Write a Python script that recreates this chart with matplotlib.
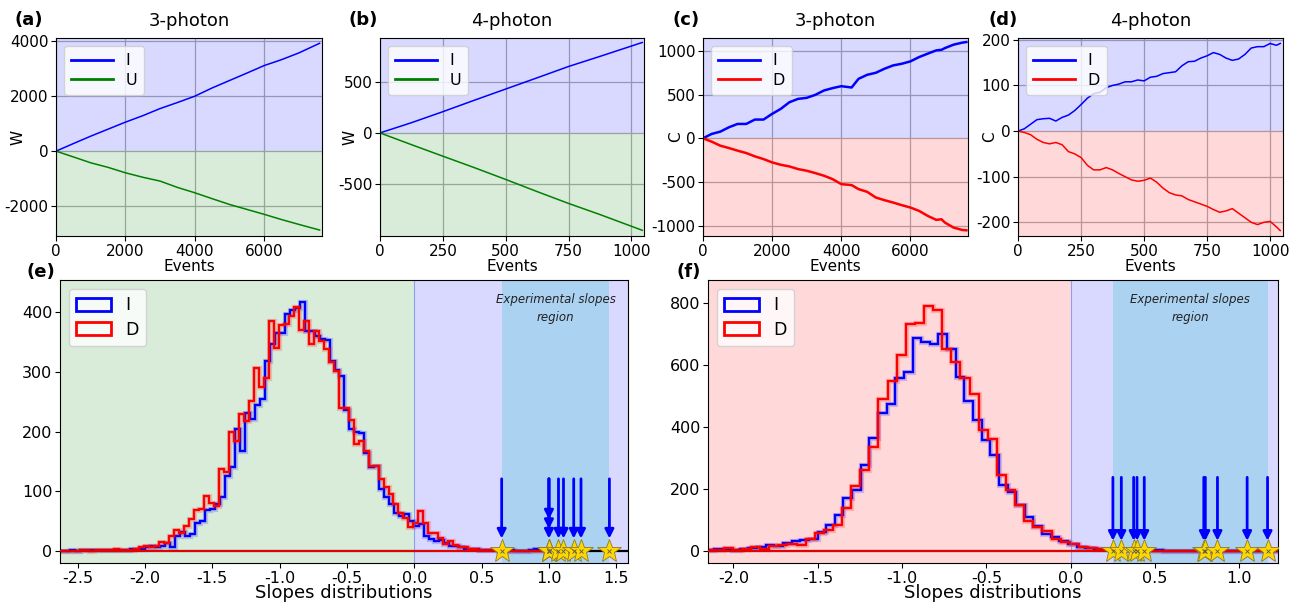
import numpy as np
import matplotlib
matplotlib.use("Agg")
import matplotlib.pyplot as plt
import matplotlib.patheffects as pe
from matplotlib.patches import Patch

plt.rcParams["axes.unicode_minus"] = False
plt.rcParams["font.family"] = "DejaVu Sans"

# ---- (a) 3-photon W walks
a_events = [0, 500, 1000, 1500, 2000, 2500, 3000, 3500, 4000, 4500, 5000, 5500, 6000, 6500, 7000, 7600]
a_I = [0, 275, 545, 800, 1055, 1290, 1550, 1770, 2000, 2300, 2570, 2840, 3115, 3330, 3575, 3927]
a_U = [0, -210, -424, -590, -788, -950, -1090, -1320, -1515, -1730, -1940, -2120, -2300, -2490, -2667, -2873]

# ---- (b) 4-photon W walks
b_events = [0, 125, 250, 375, 500, 625, 750, 875, 1043]
b_I = [0, 100, 208, 320, 430, 540, 651, 750, 886]
b_U = [0, -115, -228, -340, -456, -575, -691, -800, -954]

# ---- (c) 3-photon C walks
c_events = [0, 250, 500, 750, 1000, 1250, 1500, 1750, 2000, 2250, 2500, 2750, 3000, 3250, 3500,
            3750, 4000, 4300, 4500, 4750, 5000, 5250, 5500, 5750, 6000, 6250, 6500, 6750, 6900,
            7000, 7250, 7500, 7620]
c_I = [0, 50, 76, 126, 164, 164, 214, 214, 279, 336, 412, 450, 462, 496, 546,
       573, 595, 580, 679, 725, 748, 794, 832, 851, 878, 927, 966, 1004, 1010,
       1030, 1069, 1092, 1099]
c_D = [0, -38, -84, -111, -141, -168, -206, -237, -275, -302, -321, -351, -370, -397, -427,
       -466, -523, -534, -580, -611, -676, -706, -733, -763, -790, -828, -885, -931, -924,
       -962, -1019, -1046, -1050]

# ---- (d) 4-photon C walks
d_events = list(range(0, 1050, 25)) + [1040]
d_I = [0, 5, 15, 25, 27, 28, 22, 30, 35, 45, 58, 72, 82, 85, 95, 100, 103, 108, 108, 112, 110,
       118, 120, 126, 128, 130, 143, 152, 153, 160, 165, 172, 168, 160, 155, 158, 168, 182,
       185, 185, 192, 188, 192]
d_D = [0, -3, -8, -18, -25, -28, -25, -30, -45, -50, -58, -75, -85, -85, -80, -85, -93, -100,
       -107, -110, -108, -103, -112, -125, -135, -140, -142, -150, -155, -160, -165, -172,
       -178, -175, -170, -180, -190, -200, -205, -200, -198, -210, -218]

# ---- (e) slope histograms, 3-photon
e_I_start, e_I_width = -2.627, 0.037
e_I_counts = [0, 0, 1, 0, 1, 1, 2, 1, 1, 1, 2, 2, 2, 1, 3, 3, 4, 7, 8, 7, 9, 14,
              6, 26, 32, 25, 29, 47, 50, 69, 70, 78, 90, 125, 140, 205,
              168, 232, 221, 245, 254, 318, 346, 365, 366, 397, 404, 407, 417, 369, 368, 360,
              355, 353, 318, 304, 294, 236, 204, 199, 197, 165, 140, 142, 104,
              90, 79, 64, 58, 62, 50, 42, 46, 25, 21, 17, 18, 14, 8, 9, 6, 4, 4, 3, 2,
              2, 1, 1, 0, 0, 1, 0, 0, 0, 2, 3, 2, 1, 0, 0]
e_D_start, e_D_width = -2.633, 0.037
e_D_counts = [0, 0, 0, 0, 1, 1, 0, 1, 1, 1, 1, 3, 2, 2, 2, 4, 7, 8, 7, 8, 16, 14,
              25, 35, 31, 42, 53, 68, 70, 92, 81, 75, 138, 133, 199, 185, 229, 217, 251, 306,
              275, 290, 386, 340, 378, 381, 393, 409, 371, 385, 346, 368, 352, 338, 316, 301,
              239, 240, 220, 179, 184, 168, 143, 143,
              121, 107, 95, 78, 64, 56, 40, 47, 67, 47, 31, 31, 22, 11, 17, 10, 6, 7, 4, 3,
              2, 2, 1, 1, 0, 0, 0, 0, 0, 0, 0, 0, 0, 0, 0, 0]
e_slopes = [0.649, 1.0, 1.0, 1.0, 1.071, 1.108, 1.184, 1.238, 1.449]

# ---- (f) slope histograms, 4-photon
f_I_start, f_I_width = -2.167, 0.0512
f_I_counts = [3, 5, 6, 3, 6, 9, 12, 18, 16, 25, 31, 33, 38,
              60, 82, 116, 170, 195, 276, 364, 445, 474, 559, 579, 687, 676, 668, 700,
              652, 561, 485, 423, 358, 310, 211, 189, 146, 109, 79, 55, 44,
              32, 22, 13, 9, 5, 4, 3, 2, 1, 1, 2, 1,
              0, 0, 0, 0, 0, 0, 0, 0, 0, 0, 0, 0, 0, 0]
f_D_start, f_D_width = -2.166, 0.054
f_D_counts = [3, 3, 9, 3, 5, 11, 6, 14, 19, 23, 18, 36, 57, 66, 84, 138, 208,
              262, 335, 491, 548, 631, 733, 736, 792, 778, 652, 611, 559, 507, 391, 360,
              246, 195, 146, 95, 76, 64, 38,
              27, 22, 13, 9, 5, 4, 3, 2, 2, 1,
              0, 0, 0, 0, 0, 0, 0, 0, 0, 0, 0, 0, 0, 0, 0]
f_slopes = [0.25, 0.30, 0.373, 0.393, 0.436, 0.789, 0.798, 0.87, 1.046, 1.167]

W, H = 1295, 602
fig = plt.figure(figsize=(W / 100, H / 100), dpi=100)


def rect(l, t, r, b):
    return [l / W, 1 - b / H, (r - l) / W, (b - t) / H]


def walk_panel(ax, ev_up, up, ev_dn, dn, dn_label, dn_color, ylab, ylab_x, xlim, ylim,
               xticks, yticks, title, lw):
    ax.axhspan(0, ylim[1], color="blue", alpha=0.15, lw=0)
    ax.axhspan(ylim[0], 0, color=dn_color, alpha=0.15, lw=0)
    ax.plot(ev_up, up, color="blue", lw=lw, label="I")
    ax.plot(ev_dn, dn, color=dn_color, lw=lw, label=dn_label)
    ax.set_xlim(*xlim)
    ax.set_ylim(*ylim)
    ax.set_xticks(xticks)
    ax.set_yticks(yticks)
    ax.grid(True, color="#b0b0b0", lw=0.9)
    ax.set_axisbelow(True)
    ax.tick_params(labelsize=11, pad=2)
    ax.set_xlabel("Events", fontsize=11, labelpad=0)
    ax.set_ylabel(ylab, fontsize=11)
    ax.yaxis.set_label_coords(ylab_x, 0.5)
    ax.set_title(title, fontsize=13, pad=9)
    leg = ax.legend(loc="upper left", fontsize=11.5, handlelength=2.6, borderpad=0.45,
                    labelspacing=0.3)
    for ln in leg.get_lines():
        ln.set_linewidth(2)


ax_a = fig.add_axes(rect(56, 38, 322, 236))
walk_panel(ax_a, a_events, a_I, a_events, a_U, "U", "green", "W", -0.115, (0, 7670),
           (-3090, 4120), [0, 2000, 4000, 6000], [-2000, 0, 2000, 4000], "3-photon", 1.1)
ax_b = fig.add_axes(rect(380, 38, 644, 236))
walk_panel(ax_b, b_events, b_I, b_events, b_U, "U", "green", "W", -0.085, (0, 1050),
           (-1010, 930), [0, 250, 500, 750, 1000], [-500, 0, 500], "4-photon", 1.1)
ax_c = fig.add_axes(rect(703, 38, 968, 236))
walk_panel(ax_c, c_events, c_I, c_events, c_D, "D", "red", "C", -0.075, (0, 7667),
           (-1115, 1145), [0, 2000, 4000, 6000], [-1000, -500, 0, 500, 1000], "3-photon", 1.8)
ax_d = fig.add_axes(rect(1018, 38, 1283, 236))
walk_panel(ax_d, d_events, d_I, d_events, d_D, "D", "red", "C", -0.08, (0, 1051),
           (-230, 204), [0, 250, 500, 750, 1000], [-200, -100, 0, 100, 200], "4-photon", 1.1)


def hist_panel(ax, I_start, I_width, I_counts, D_start, D_width, D_counts, slopes,
               left_color, xlim, ylim, xticks, yticks, arrow_top, arrow_tip, head_step):
    ax.axvspan(xlim[0], 0, color=left_color, alpha=0.15, lw=0)
    ax.axvspan(0, xlim[1], color="blue", alpha=0.15, lw=0)
    ax.axvline(0, color="royalblue", lw=0.8, alpha=0.5)
    ax.axvspan(min(slopes), max(slopes), color="#acd2f2", lw=0)
    ax.text((min(slopes) + max(slopes)) / 2, 0.9, "Experimental slopes\nregion",
            transform=ax.get_xaxis_transform(), ha="center", va="center",
            fontsize=8.5, style="italic", color="#222222", linespacing=1.5)
    ax.axhline(0, color="black", lw=1.6)
    I_edges = I_start + I_width * np.arange(len(I_counts) + 1)
    D_edges = D_start + D_width * np.arange(len(D_counts) + 1)
    ax.stairs(I_counts, I_edges, color="blue", lw=1.7,
              path_effects=[pe.Stroke(linewidth=3.8, foreground="blue", alpha=0.18), pe.Normal()])
    ax.stairs(D_counts, D_edges, color="red", lw=1.7,
              path_effects=[pe.Stroke(linewidth=3.8, foreground="red", alpha=0.18), pe.Normal()])
    ax.hlines(0, D_edges[0], D_edges[-1], color="red", lw=1.3, zorder=3)
    seen = []
    for s in slopes:
        n_same = sum(1 for p in seen if abs(p - s) < 0.003)
        seen.append(s)
        ax.annotate("", xy=(s, arrow_tip + n_same * head_step), xytext=(s, arrow_top),
                    arrowprops=dict(arrowstyle="-|>", color="blue", lw=2,
                                    mutation_scale=13, shrinkA=0, shrinkB=0))
    ax.plot(slopes, [0] * len(slopes), ls="none", marker="*", ms=18,
            mfc="gold", mec="#8c7a2a", mew=0.6, zorder=5)
    ax.plot(slopes, [0] * len(slopes), ls="none", marker="x", ms=2.5,
            color="#555555", mew=0.6, zorder=6)
    ax.set_xlim(*xlim)
    ax.set_ylim(*ylim)
    ax.set_xticks(xticks)
    ax.set_yticks(yticks)
    ax.tick_params(labelsize=11.5, pad=2)
    ax.set_xlabel("Slopes distributions", fontsize=13, labelpad=-1)
    handles = [Patch(facecolor="none", edgecolor="blue", lw=2, label="I"),
               Patch(facecolor="none", edgecolor="red", lw=2, label="D")]
    ax.legend(handles=handles, loc="upper left", fontsize=12.5, handlelength=2.0,
              handleheight=0.8, borderpad=0.45, labelspacing=0.35)


ax_e = fig.add_axes(rect(60, 280, 628, 563))
hist_panel(ax_e, e_I_start, e_I_width, e_I_counts, e_D_start, e_D_width, e_D_counts,
           e_slopes, "green", (-2.63, 1.587), (-20, 454),
           [-2.5, -2.0, -1.5, -1.0, -0.5, 0.0, 0.5, 1.0, 1.5], [0, 100, 200, 300, 400],
           121, 21, 16)
ax_f = fig.add_axes(rect(708, 280, 1278, 563))
hist_panel(ax_f, f_I_start, f_I_width, f_I_counts, f_D_start, f_D_width, f_D_counts,
           f_slopes, "red", (-2.151, 1.229), (-40, 875),
           [-2.0, -1.5, -1.0, -0.5, 0.0, 0.5, 1.0], [0, 200, 400, 600, 800],
           237, 32, 30)

for lbl, x, y in [("(a)", 14, 20), ("(b)", 348, 20), ("(c)", 672, 20), ("(d)", 988, 20),
                  ("(e)", 26, 272), ("(f)", 676, 272)]:
    fig.text(x / W, 1 - y / H, lbl, fontsize=13, fontweight="bold", ha="left", va="center")

fig.savefig("out.png", dpi=100)
